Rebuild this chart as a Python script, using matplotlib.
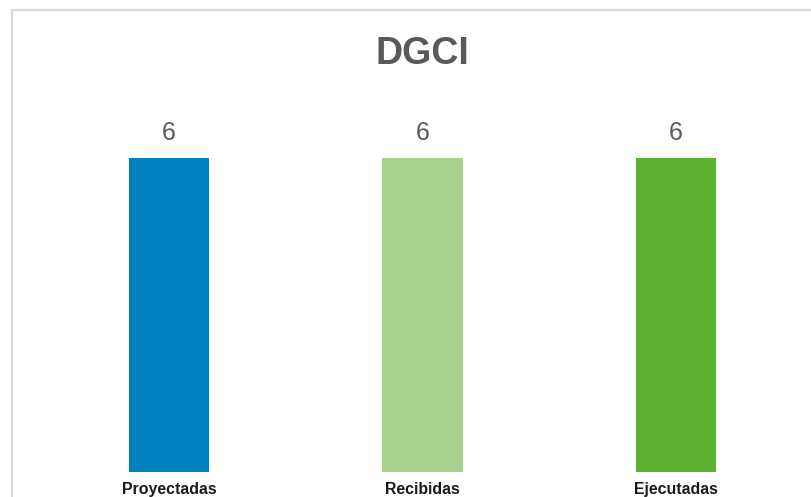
import matplotlib.pyplot as plt
from matplotlib.patches import Rectangle

# data
categories = ['Proyectadas', 'Recibidas', 'Ejecutadas']
values = [6, 6, 6]
bar_colors = ['#0081c0', '#a9d18e', '#5bb030']

plt.rcParams['font.family'] = ['Liberation Sans', 'DejaVu Sans']

fig = plt.figure(figsize=(8.12, 4.97), dpi=100)
W, H = 812, 497

# axes placed so the bars land where they are in the reference
left, right = 42.25, 802.75
bottom_px, top_px = 472, 126.6
ax = fig.add_axes([left / W, (H - bottom_px) / H, (right - left) / W, (bottom_px - top_px) / H])

x = range(len(categories))
bars = ax.bar(x, values, width=0.316, color=bar_colors)
ax.set_xlim(-0.5, 2.5)
ax.set_ylim(0, 6.6)

for b, v in zip(bars, values):
    ax.annotate(str(v), (b.get_x() + b.get_width() / 2, v), xytext=(0, 9),
                textcoords='offset points', ha='center', va='bottom',
                fontsize=18, color='#595959')

ax.set_xticks(list(x))
ax.set_xticklabels(categories, fontsize=11.4, fontweight='bold', color='#1a1a1a')
ax.tick_params(axis='x', length=0, pad=7)
ax.set_yticks([])
for s in ax.spines.values():
    s.set_visible(False)

fig.text(422 / W, 1 - 54 / H, 'DGCI', ha='center', va='center',
         fontsize=27, fontweight='bold', color='#595959')

# light gray chart border, running off the right and bottom edges
fig.patches.append(Rectangle((12.5 / W, -0.1), 1.2, 1 - 9.5 / H + 0.1,
                             transform=fig.transFigure, fill=False,
                             edgecolor='#d9d9d9', linewidth=1.6, clip_on=False))

fig.savefig('out.png', dpi=100)
